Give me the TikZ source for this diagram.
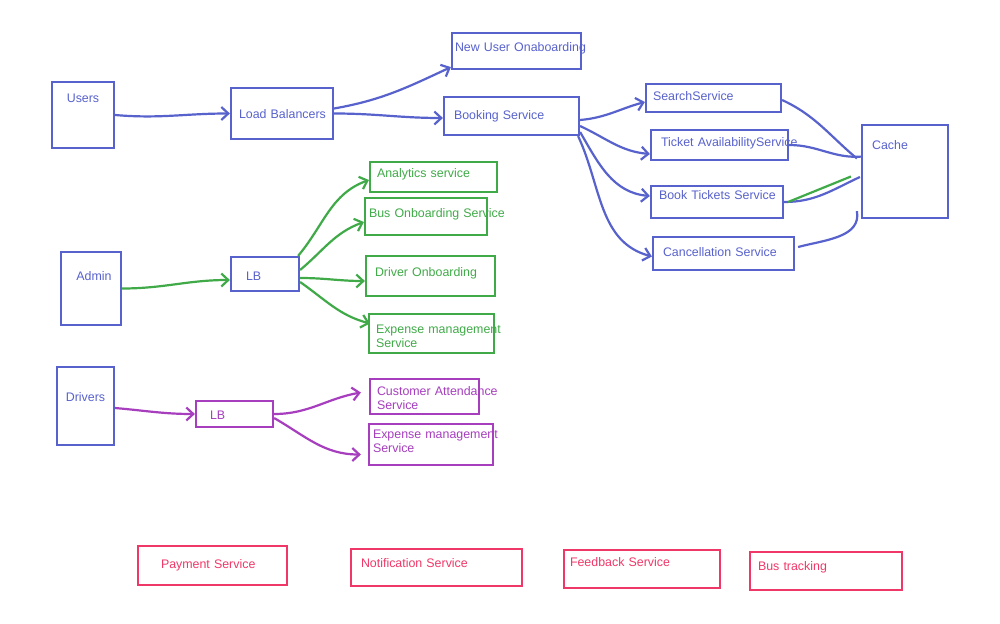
\documentclass[tikz,border=0pt]{standalone}
\usepackage{fontspec}
\setmainfont{Liberation Sans}
\usetikzlibrary{arrows.meta}
\definecolor{ublue}{RGB}{88,98,204}
\definecolor{agreen}{RGB}{64,170,72}
\definecolor{dpurple}{RGB}{166,62,190}
\definecolor{opink}{RGB}{240,56,104}
\newcommand{\svcfont}{\fontsize{12.4}{14}\selectfont\hyphenpenalty=10000\exhyphenpenalty=10000}
\tikzstyle{box}=[line width=2.2pt,font=\svcfont,align=left,inner ysep=0pt,text height=12pt]
\tikzstyle{twoline}=[text height=14pt]
\tikzstyle{bluebox}=[box,draw=ublue,text=ublue]
\tikzstyle{greenbox}=[box,draw=agreen,text=agreen]
\tikzstyle{purplebox}=[box,draw=dpurple,text=dpurple]
\tikzstyle{pinkbox}=[box,draw=opink,text=opink]
\tikzstyle{toplabel}=[anchor=north,inner sep=0pt,font=\svcfont,text=ublue]

\begin{document}
\begin{tikzpicture}[x=1pt,y=-1pt,>={Straight Barb[length=7pt,width=13pt]}]
    \tikzstyle{blueline}=[draw=ublue,line width=2.2pt]
    \tikzstyle{greenline}=[draw=agreen,line width=2.2pt]
    \tikzstyle{purpleline}=[draw=dpurple,line width=2.2pt]
    \path[use as bounding box,fill=white] (0,0) rectangle (1000,623);
    % users side
    \node[bluebox,minimum width=62pt,minimum height=66pt,label={[toplabel,yshift=-12.7pt]north:Users}] (users) at (83,115) {};
    \node[bluebox,text width=86pt,inner xsep=8pt,minimum height=51pt,text depth=2pt] (loadbal) at (282,113.5) {Load~Balancers};
    \node[bluebox,text width=123pt,inner xsep=3pt,minimum height=36pt,text depth=11pt] (newuser) at (516.5,51) {New~User~Onaboarding};
    \node[bluebox,text width=115pt,inner xsep=10pt,minimum height=38pt,text depth=5pt] (booking) at (511.5,116) {Booking~Service};
    \node[bluebox,text width=121pt,inner xsep=7pt,minimum height=28pt,text depth=7pt] (search) at (713.5,98) {SearchService};
    \node[bluebox,text width=117pt,inner xsep=10pt,minimum height=30pt,text depth=9pt] (ticket) at (719.5,145) {Ticket~AvailabilityService};
    \node[bluebox,text width=116pt,inner xsep=8pt,minimum height=32pt,text depth=17pt] (bookt) at (717,202) {Book~Tickets~Service};
    \node[bluebox,text width=121pt,inner xsep=10pt,minimum height=33pt,text depth=6pt] (cancel) at (723.5,253.5) {Cancellation~Service};
    \node[bluebox,minimum width=86pt,minimum height=93pt,label={[toplabel,xshift=-15pt,yshift=-16.7pt]north:Cache}] (cache) at (905,171.5) {};
    % admin side
    \node[bluebox,minimum width=60pt,minimum height=73pt,label={[toplabel,xshift=3pt,yshift=-20.7pt]north:Admin}] (admin) at (91,288.5) {};
    \node[bluebox,text width=38pt,inner xsep=15pt,minimum height=34pt,text depth=0pt] (lbg) at (265,274) {LB};
    \node[greenbox,text width=113pt,inner xsep=7pt,minimum height=30pt,text depth=11pt] (analytics) at (433.5,177) {Analytics~service};
    \node[greenbox,text width=114pt,inner xsep=4pt,minimum height=37pt,text depth=10pt] (busonb) at (426,216.5) {Bus~Onboarding~Service};
    \node[greenbox,text width=111pt,inner xsep=9pt,minimum height=40pt,text depth=11pt] (driveronb) at (430.5,276) {Driver~Onboarding};
    \node[greenbox,twoline,text width=111pt,inner xsep=7pt,minimum height=39pt,text depth=14pt] (expg) at (431.5,333.5) {Expense~management\\Service};
    % drivers side
    \node[bluebox,minimum width=57pt,minimum height=78pt,label={[toplabel,yshift=-26.7pt]north:Drivers}] (drivers) at (85.5,406) {};
    \node[purplebox,text width=49pt,inner xsep=14pt,minimum height=26pt,text depth=1pt] (lbp) at (234.5,414) {LB};
    \node[purplebox,twoline,text width=95pt,inner xsep=7pt,minimum height=35pt,text depth=16pt] (customer) at (424.5,396.5) {Customer~Attendance\\Service};
    \node[purplebox,twoline,text width=116pt,inner xsep=4pt,minimum height=41pt,text depth=26pt] (expp) at (431,444.5) {Expense~management\\Service};
    % common services
    \node[pinkbox,text width=103pt,inner xsep=23pt,minimum height=39pt,text depth=6pt] (payment) at (212.5,565.5) {Payment~Service};
    \node[pinkbox,text width=151pt,inner xsep=10pt,minimum height=37pt,text depth=12pt] (notification) at (436.5,567.5) {Notification~Service};
    \node[pinkbox,text width=144pt,inner xsep=6pt,minimum height=38pt,text depth=17pt] (feedback) at (642,569) {Feedback~Service};
    \node[pinkbox,text width=136pt,inner xsep=8pt,minimum height=38pt,text depth=13pt] (bustrack) at (826,571) {Bus~tracking};

    \draw[blueline,->] (users.east) to[out=-5,in=180] (loadbal.west);
    \draw[blueline,->] ([yshift=5pt]loadbal.east) to[out=10,in=205] ([yshift=3pt]newuser.south west);
    \draw[blueline,->] (loadbal.east) to[out=0,in=180] ([yshift=-2pt]booking.west);
    \draw[blueline,->] ([yshift=-4pt]booking.east) to[out=5,in=195] ([yshift=-4pt]search.west);
    \draw[blueline,->] ([yshift=-10pt]booking.east) to[out=-25,in=175] ([yshift=-9pt]ticket.west);
    \draw[blueline,->] ([yshift=-16pt]booking.east) to[out=-60,in=175] ([yshift=6pt]bookt.west);
    \draw[blueline,->] ([xshift=-2pt]booking.south east) to[out=-65,in=165] ([yshift=-3pt]cancel.west);
    \draw[blueline] ([yshift=-2pt]search.east) to[out=-25,in=140] ([xshift=-4pt,yshift=13pt]cache.west);
    \draw[blueline] (ticket.east) to[out=0,in=185] ([xshift=2pt,yshift=15pt]cache.west);
    \draw[blueline] (bookt.east) to[out=0,in=205] ([xshift=-1pt,yshift=-5.5pt]cache.west);
    \draw[greenline] ([xshift=4pt]bookt.east) -- ([xshift=-10pt,yshift=-5pt]cache.west);
    \draw[blueline] ([xshift=3pt,yshift=6.5pt]cancel.east) to[out=15,in=-80] ([xshift=-4pt,yshift=8pt]cache.south west);

    \draw[greenline,->] (admin.east) to[out=0,in=180] ([yshift=-6pt]lbg.west);
    \draw[greenline,->] ([xshift=-2pt]lbg.north east) to[out=50,in=200] ([yshift=-3pt]analytics.west);
    \draw[greenline,->] ([yshift=4pt]lbg.east) to[out=40,in=200] ([yshift=-5.5pt]busonb.west);
    \draw[greenline,->] ([yshift=-4pt]lbg.east) to[out=0,in=180] ([yshift=-5pt]driveronb.west);
    \draw[greenline,->] ([yshift=-8pt]lbg.east) to[out=-35,in=165] ([xshift=2pt,yshift=10pt]expg.west);

    \draw[purpleline,->] ([yshift=-2pt]drivers.east) to[out=-5,in=180] (lbp.west);
    \draw[purpleline,->] (lbp.east) to[out=0,in=190] ([xshift=-8pt,yshift=4pt]customer.west);
    \draw[purpleline,->] ([yshift=-4pt]lbp.east) to[out=-30,in=180] ([xshift=-7pt,yshift=-10pt]expp.west);
\end{tikzpicture}
\end{document}
